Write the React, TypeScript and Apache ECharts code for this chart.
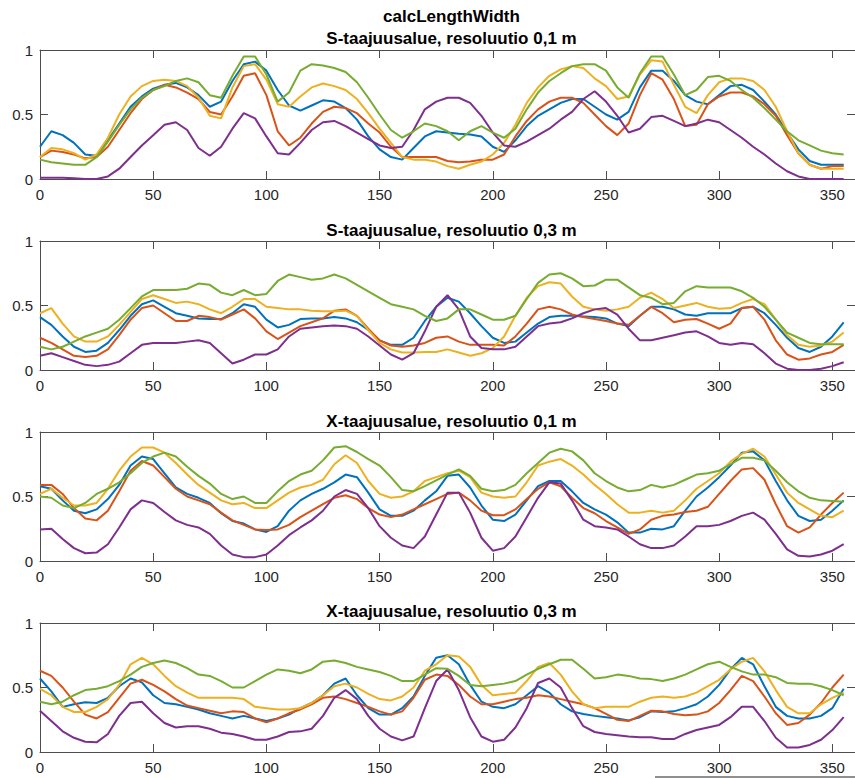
import React, { useEffect, useRef } from "react";
import * as echarts from "echarts";

const angles = [
  0, 5, 10, 15, 20, 25, 30, 35, 40, 45, 50, 55, 60, 65, 70, 75, 80, 85, 90, 95,
  100, 105, 110, 115, 120, 125, 130, 135, 140, 145, 150, 155, 160, 165, 170,
  175, 180, 185, 190, 195, 200, 205, 210, 215, 220, 225, 230, 235, 240, 245,
  250, 255, 260, 265, 270, 275, 280, 285, 290, 295, 300, 305, 310, 315, 320,
  325, 330, 335, 340, 345, 350, 355,
];

const mainTitle = "calcLengthWidth";
const panelTitles = [
  "S-taajuusalue, resoluutio 0,1 m",
  "S-taajuusalue, resoluutio 0,3 m",
  "X-taajuusalue, resoluutio 0,1 m",
  "X-taajuusalue, resoluutio 0,3 m",
];
const xTicks = [0, 50, 100, 150, 200, 250, 300, 350];
const yTicks = [0, 0.5, 1];
const seriesColors = ["#0072BD", "#D95319", "#EDB120", "#7E2F8E", "#77AC30"];

// S-taajuusalue, 0,1 m
const s01Blue = [
  0.25, 0.37, 0.34, 0.28, 0.19, 0.18, 0.30, 0.43, 0.56, 0.64,
  0.70, 0.73, 0.745, 0.71, 0.65, 0.56, 0.60, 0.76, 0.89, 0.91,
  0.84, 0.69, 0.57, 0.53, 0.57, 0.61, 0.60, 0.55, 0.46, 0.33,
  0.23, 0.17, 0.15, 0.24, 0.33,
  0.37, 0.36, 0.35, 0.345, 0.33, 0.25, 0.21, 0.30, 0.41, 0.49,
  0.54, 0.59, 0.62, 0.62, 0.56, 0.50, 0.46, 0.52, 0.71, 0.84,
  0.84, 0.76, 0.65, 0.60, 0.58, 0.65, 0.72, 0.73, 0.69, 0.60,
  0.50, 0.36, 0.23, 0.14, 0.11, 0.11, 0.11,
];
const s01Orange = [
  0.17, 0.22, 0.21, 0.19, 0.16, 0.17, 0.25, 0.38, 0.51, 0.62,
  0.69, 0.73, 0.71, 0.67, 0.62, 0.52, 0.50, 0.64, 0.80, 0.82,
  0.65, 0.37, 0.26, 0.32, 0.43, 0.52, 0.56, 0.55, 0.51, 0.43,
  0.36, 0.25, 0.17, 0.17, 0.17,
  0.17, 0.14, 0.13, 0.135, 0.15, 0.15, 0.19, 0.33, 0.45, 0.54,
  0.60, 0.63, 0.63, 0.59, 0.50, 0.41, 0.34, 0.43, 0.65, 0.82,
  0.77, 0.62, 0.41, 0.42, 0.58, 0.64, 0.67, 0.67, 0.64, 0.58,
  0.49, 0.34, 0.20, 0.11, 0.08, 0.10, 0.10,
];
const s01Yellow = [
  0.17, 0.24, 0.23, 0.20, 0.15, 0.19, 0.32, 0.50, 0.64, 0.72,
  0.76, 0.77, 0.76, 0.72, 0.63, 0.49, 0.47, 0.71, 0.875, 0.89,
  0.77, 0.58, 0.56, 0.64, 0.71, 0.74, 0.72, 0.69, 0.62, 0.51,
  0.39, 0.28, 0.17, 0.15, 0.15,
  0.135, 0.10, 0.08, 0.11, 0.135, 0.19, 0.28, 0.42, 0.59, 0.71,
  0.80, 0.85, 0.875, 0.86, 0.78, 0.72, 0.62, 0.64, 0.81, 0.92,
  0.91, 0.73, 0.56, 0.51, 0.65, 0.75, 0.78, 0.78, 0.76, 0.69,
  0.56, 0.37, 0.20, 0.11, 0.08, 0.08, 0.08,
];
const s01Purple = [
  0.01, 0.01, 0.01, 0.005, 0, 0, 0.02, 0.08, 0.17, 0.26,
  0.34, 0.42, 0.44, 0.38, 0.24, 0.18, 0.25, 0.39, 0.51, 0.47,
  0.33, 0.20, 0.19, 0.28, 0.38, 0.44, 0.45, 0.41, 0.36, 0.31,
  0.26, 0.24, 0.25, 0.38, 0.54,
  0.60, 0.63, 0.63, 0.59, 0.49, 0.36, 0.26, 0.25, 0.29, 0.34,
  0.39, 0.46, 0.52, 0.62, 0.68, 0.60, 0.49, 0.36, 0.39, 0.48,
  0.49, 0.45, 0.41, 0.43, 0.46, 0.44, 0.38, 0.32, 0.25, 0.19,
  0.12, 0.06, 0.02, 0, 0, 0, 0,
];
const s01Green = [
  0.15, 0.13, 0.12, 0.11, 0.11, 0.17, 0.29, 0.42, 0.54, 0.63,
  0.69, 0.72, 0.76, 0.78, 0.75, 0.65, 0.63, 0.80, 0.95, 0.95,
  0.81, 0.60, 0.67, 0.84, 0.89, 0.88, 0.86, 0.83, 0.75, 0.63,
  0.50, 0.38, 0.32, 0.37, 0.43,
  0.41, 0.37, 0.30, 0.37, 0.41, 0.36, 0.32, 0.39, 0.54, 0.67,
  0.76, 0.82, 0.875, 0.89, 0.89, 0.84, 0.71, 0.63, 0.82, 0.95,
  0.95, 0.81, 0.65, 0.69, 0.79, 0.80, 0.76, 0.69, 0.63, 0.55,
  0.46, 0.37, 0.30, 0.26, 0.22, 0.20, 0.19,
];

// S-taajuusalue, 0,3 m
const s03Blue = [
  0.41, 0.35, 0.26, 0.18, 0.14, 0.15, 0.21, 0.31, 0.42, 0.51,
  0.54, 0.49, 0.44, 0.42, 0.40, 0.395, 0.395, 0.44, 0.51, 0.49,
  0.39, 0.33, 0.35, 0.395, 0.40, 0.40, 0.41, 0.40, 0.37, 0.31,
  0.23, 0.195, 0.195, 0.25, 0.38,
  0.49, 0.56, 0.53, 0.44, 0.34, 0.25, 0.21, 0.22, 0.29, 0.36,
  0.41, 0.42, 0.42, 0.415, 0.41, 0.40, 0.36, 0.34, 0.42, 0.49,
  0.49, 0.47, 0.43, 0.42, 0.44, 0.44, 0.44, 0.48, 0.49, 0.44,
  0.35, 0.25, 0.17, 0.14, 0.18, 0.26, 0.37,
];
const s03Orange = [
  0.25, 0.21, 0.16, 0.11, 0.10, 0.11, 0.16, 0.27, 0.39, 0.48,
  0.50, 0.44, 0.38, 0.38, 0.42, 0.41, 0.39, 0.43, 0.47, 0.40,
  0.30, 0.24, 0.29, 0.34, 0.37, 0.40, 0.46, 0.47, 0.42, 0.32,
  0.23, 0.19, 0.18, 0.19, 0.21,
  0.25, 0.26, 0.22, 0.195, 0.195, 0.195, 0.19, 0.26, 0.36, 0.47,
  0.49, 0.47, 0.43, 0.41, 0.395, 0.38, 0.36, 0.35, 0.42, 0.49,
  0.44, 0.37, 0.39, 0.395, 0.36, 0.32, 0.36, 0.48, 0.49, 0.39,
  0.23, 0.12, 0.08, 0.09, 0.12, 0.14, 0.195,
];
const s03Yellow = [
  0.44, 0.48, 0.36, 0.26, 0.22, 0.22, 0.26, 0.35, 0.45, 0.55,
  0.58, 0.55, 0.52, 0.53, 0.51, 0.47, 0.44, 0.49, 0.55, 0.55,
  0.49, 0.48, 0.47, 0.47, 0.46, 0.455, 0.455, 0.46, 0.42, 0.31,
  0.21, 0.16, 0.135, 0.135, 0.14,
  0.14, 0.16, 0.135, 0.11, 0.13, 0.17, 0.26, 0.42, 0.56, 0.65,
  0.68, 0.67, 0.57, 0.49, 0.47, 0.46, 0.47, 0.49, 0.56, 0.60,
  0.55, 0.48, 0.50, 0.52, 0.49, 0.475, 0.48, 0.52, 0.55, 0.51,
  0.39, 0.27, 0.195, 0.18, 0.19, 0.22, 0.29,
];
const s03Purple = [
  0.11, 0.13, 0.10, 0.07, 0.04, 0.03, 0.04, 0.065, 0.13, 0.195,
  0.21, 0.21, 0.21, 0.22, 0.23, 0.21, 0.13, 0.05, 0.08, 0.12,
  0.12, 0.16, 0.26, 0.32, 0.33, 0.34, 0.345, 0.34, 0.32, 0.26,
  0.19, 0.12, 0.08, 0.13, 0.30,
  0.49, 0.58, 0.47, 0.26, 0.17, 0.16, 0.16, 0.18, 0.26, 0.34,
  0.36, 0.37, 0.40, 0.44, 0.47, 0.48, 0.43, 0.32, 0.23, 0.23,
  0.25, 0.27, 0.29, 0.30, 0.26, 0.21, 0.195, 0.21, 0.20, 0.13,
  0.05, 0.01, 0, 0, 0.01, 0.03, 0.06,
];
const s03Green = [
  0.18, 0.16, 0.18, 0.22, 0.26, 0.29, 0.32, 0.39, 0.48, 0.57,
  0.62, 0.62, 0.62, 0.63, 0.67, 0.66, 0.60, 0.58, 0.62, 0.58,
  0.59, 0.69, 0.74, 0.72, 0.70, 0.71, 0.74, 0.71, 0.66, 0.61,
  0.56, 0.51, 0.49, 0.47, 0.42,
  0.38, 0.40, 0.47, 0.47, 0.43, 0.39, 0.39, 0.42, 0.55, 0.675,
  0.74, 0.75, 0.71, 0.65, 0.655, 0.70, 0.70, 0.64, 0.58, 0.56,
  0.51, 0.52, 0.61, 0.65, 0.64, 0.64, 0.64, 0.61, 0.56, 0.49,
  0.39, 0.29, 0.25, 0.21, 0.20, 0.20, 0.20,
];

// X-taajuusalue, 0,1 m
const x01Blue = [
  0.58, 0.56, 0.47, 0.39, 0.37, 0.40, 0.48, 0.59, 0.74, 0.81,
  0.79, 0.68, 0.57, 0.52, 0.49, 0.45, 0.37, 0.31, 0.29, 0.245,
  0.225, 0.27, 0.39, 0.47, 0.52, 0.56, 0.61, 0.67, 0.65, 0.53,
  0.40, 0.35, 0.35, 0.39, 0.47,
  0.54, 0.66, 0.67, 0.57, 0.43, 0.32, 0.31, 0.36, 0.47, 0.58,
  0.62, 0.62, 0.54, 0.45, 0.40, 0.36, 0.30, 0.22, 0.22, 0.25,
  0.245, 0.27, 0.39, 0.50, 0.57, 0.65, 0.74, 0.84, 0.85, 0.78,
  0.62, 0.47, 0.35, 0.31, 0.32, 0.39, 0.47,
];
const x01Orange = [
  0.59, 0.59, 0.52, 0.41, 0.33, 0.315, 0.39, 0.54, 0.70, 0.775,
  0.74, 0.65, 0.56, 0.50, 0.47, 0.44, 0.375, 0.315, 0.28, 0.245,
  0.24, 0.245, 0.28, 0.34, 0.39, 0.44, 0.49, 0.51, 0.48, 0.41,
  0.36, 0.34, 0.36, 0.40, 0.44,
  0.48, 0.52, 0.53, 0.47, 0.39, 0.355, 0.355, 0.40, 0.48, 0.56,
  0.61, 0.58, 0.49, 0.41, 0.37, 0.31, 0.26, 0.21, 0.245, 0.32,
  0.35, 0.36, 0.38, 0.39, 0.42, 0.52, 0.62, 0.71, 0.72, 0.63,
  0.44, 0.27, 0.22, 0.26, 0.36, 0.45, 0.53,
];
const x01Yellow = [
  0.52, 0.56, 0.49, 0.43, 0.43, 0.45, 0.56, 0.70, 0.81, 0.88,
  0.88, 0.84, 0.76, 0.67, 0.59, 0.53, 0.47, 0.44, 0.45, 0.41,
  0.41, 0.47, 0.53, 0.57, 0.59, 0.63, 0.75, 0.82, 0.76, 0.62,
  0.52, 0.49, 0.50, 0.54, 0.62,
  0.65, 0.68, 0.70, 0.65, 0.53, 0.50, 0.49, 0.50, 0.61, 0.74,
  0.77, 0.79, 0.74, 0.67, 0.59, 0.52, 0.44, 0.375, 0.375, 0.39,
  0.375, 0.39, 0.47, 0.56, 0.62, 0.68, 0.77, 0.83, 0.87, 0.81,
  0.67, 0.53, 0.45, 0.40, 0.35, 0.34, 0.39,
];
const x01Purple = [
  0.245, 0.25, 0.17, 0.10, 0.06, 0.065, 0.13, 0.26, 0.40, 0.47,
  0.45, 0.38, 0.315, 0.28, 0.26, 0.21, 0.12, 0.05, 0.03, 0.03,
  0.05, 0.12, 0.20, 0.26, 0.315, 0.39, 0.50, 0.55, 0.52, 0.41,
  0.27, 0.18, 0.12, 0.10, 0.19,
  0.36, 0.53, 0.53, 0.375, 0.18, 0.08, 0.10, 0.19, 0.34, 0.49,
  0.61, 0.60, 0.47, 0.32, 0.27, 0.26, 0.245, 0.19, 0.13, 0.10,
  0.10, 0.12, 0.19, 0.27, 0.27, 0.28, 0.31, 0.35, 0.375, 0.32,
  0.21, 0.09, 0.04, 0.035, 0.05, 0.08, 0.13,
];
const x01Green = [
  0.50, 0.49, 0.43, 0.41, 0.45, 0.52, 0.56, 0.61, 0.68, 0.76,
  0.81, 0.84, 0.81, 0.73, 0.66, 0.60, 0.52, 0.48, 0.50, 0.45,
  0.45, 0.54, 0.62, 0.67, 0.70, 0.78, 0.88, 0.89, 0.845, 0.79,
  0.74, 0.65, 0.55, 0.54, 0.58,
  0.625, 0.67, 0.71, 0.66, 0.56, 0.54, 0.55, 0.59, 0.68, 0.76,
  0.84, 0.87, 0.85, 0.78, 0.68, 0.62, 0.57, 0.54, 0.55, 0.59,
  0.57, 0.59, 0.63, 0.67, 0.68, 0.70, 0.75, 0.80, 0.80, 0.78,
  0.70, 0.61, 0.54, 0.49, 0.47, 0.465, 0.46,
];

// X-taajuusalue, 0,3 m
const x03Blue = [
  0.57, 0.47, 0.35, 0.37, 0.385, 0.38, 0.42, 0.51, 0.57, 0.54,
  0.44, 0.38, 0.37, 0.35, 0.33, 0.30, 0.28, 0.26, 0.28, 0.26,
  0.24, 0.26, 0.29, 0.34, 0.38, 0.44, 0.53, 0.57, 0.44, 0.34,
  0.29, 0.29, 0.34, 0.43, 0.59,
  0.73, 0.75, 0.68, 0.52, 0.39, 0.35, 0.34, 0.37, 0.44, 0.51,
  0.46, 0.37, 0.315, 0.295, 0.28, 0.27, 0.26, 0.245, 0.27, 0.315,
  0.31, 0.315, 0.34, 0.37, 0.43, 0.52, 0.64, 0.73, 0.68, 0.51,
  0.35, 0.28, 0.26, 0.26, 0.28, 0.34, 0.49,
];
const x03Orange = [
  0.63, 0.59, 0.50, 0.39, 0.29, 0.26, 0.31, 0.42, 0.53, 0.56,
  0.52, 0.47, 0.41, 0.36, 0.34, 0.32, 0.30, 0.315, 0.31, 0.26,
  0.23, 0.26, 0.30, 0.33, 0.37, 0.42, 0.43, 0.41, 0.38, 0.35,
  0.315, 0.29, 0.315, 0.42, 0.56,
  0.60, 0.59, 0.52, 0.43, 0.37, 0.37, 0.39, 0.41, 0.42, 0.44,
  0.43, 0.41, 0.39, 0.37, 0.34, 0.295, 0.25, 0.24, 0.28, 0.32,
  0.315, 0.295, 0.285, 0.29, 0.315, 0.38, 0.48, 0.59, 0.55, 0.43,
  0.30, 0.21, 0.225, 0.29, 0.38, 0.50, 0.60,
];
const x03Yellow = [
  0.49, 0.44, 0.35, 0.31, 0.31, 0.35, 0.41, 0.52, 0.68, 0.73,
  0.68, 0.59, 0.51, 0.46, 0.42, 0.42, 0.42, 0.42, 0.41, 0.35,
  0.34, 0.33, 0.33, 0.34, 0.38, 0.44, 0.51, 0.53, 0.50, 0.45,
  0.41, 0.40, 0.43, 0.50, 0.63,
  0.68, 0.75, 0.74, 0.66, 0.52, 0.44, 0.45, 0.46, 0.55, 0.66,
  0.69, 0.60, 0.47, 0.37, 0.34, 0.35, 0.35, 0.35, 0.39, 0.42,
  0.43, 0.42, 0.43, 0.46, 0.51, 0.56, 0.64, 0.70, 0.73, 0.625,
  0.48, 0.35, 0.30, 0.30, 0.37, 0.42, 0.46,
];
const x03Purple = [
  0.32, 0.24, 0.16, 0.11, 0.08, 0.075, 0.14, 0.28, 0.38, 0.39,
  0.30, 0.225, 0.19, 0.20, 0.20, 0.18, 0.15, 0.14, 0.12, 0.095,
  0.095, 0.12, 0.155, 0.16, 0.18, 0.28, 0.42, 0.48, 0.41, 0.28,
  0.18, 0.12, 0.09, 0.12, 0.34,
  0.55, 0.64, 0.48, 0.27, 0.12, 0.08, 0.095, 0.19, 0.34, 0.535,
  0.57, 0.50, 0.34, 0.20, 0.155, 0.14, 0.13, 0.12, 0.115, 0.115,
  0.10, 0.10, 0.14, 0.17, 0.19, 0.21, 0.27, 0.35, 0.35, 0.24,
  0.11, 0.035, 0.035, 0.055, 0.095, 0.17, 0.27,
];
const x03Green = [
  0.39, 0.37, 0.39, 0.44, 0.48, 0.49, 0.51, 0.55, 0.60, 0.66,
  0.69, 0.71, 0.69, 0.65, 0.60, 0.59, 0.55, 0.50, 0.50, 0.55,
  0.60, 0.64, 0.63, 0.61, 0.64, 0.70, 0.71, 0.69, 0.66, 0.64,
  0.62, 0.59, 0.55, 0.55, 0.60,
  0.65, 0.645, 0.59, 0.52, 0.51, 0.52, 0.53, 0.55, 0.60, 0.645,
  0.68, 0.715, 0.715, 0.645, 0.57, 0.58, 0.60, 0.59, 0.57, 0.565,
  0.55, 0.57, 0.60, 0.64, 0.68, 0.70, 0.66, 0.625, 0.60, 0.60,
  0.58, 0.535, 0.53, 0.53, 0.51, 0.48, 0.44,
];

const panelSeries = [
  [s01Blue, s01Orange, s01Yellow, s01Purple, s01Green],
  [s03Blue, s03Orange, s03Yellow, s03Purple, s03Green],
  [x01Blue, x01Orange, x01Yellow, x01Purple, x01Green],
  [x03Blue, x03Orange, x03Yellow, x03Purple, x03Green],
];

const FONT = '"Liberation Sans", Arial, Helvetica, sans-serif';
const AXIS_COLOR = "#262626";
const LINE_COLOR = "#4d4d4d";

export default function App() {
  const ref = useRef<HTMLDivElement>(null);

  useEffect(() => {
    if (!ref.current) return;
    const chart = echarts.init(ref.current, undefined, { renderer: "svg" });

    const gridLeft = 40;
    const gridWidth = 823;
    const gridHeight = 129;
    const gridTops = [50, 241, 432, 623];
    const titleYs = [38.5, 230, 421, 611.5];
    const centerX = gridLeft + gridWidth / 2;

    const grids: any[] = [];
    const xAxes: any[] = [];
    const yAxes: any[] = [];
    const series: any[] = [];
    const graphics: any[] = [];

    const tickStyle = {
      show: true,
      inside: true,
      length: 8,
      lineStyle: { color: LINE_COLOR, width: 1 },
    };

    graphics.push({
      type: "text",
      x: centerX,
      y: 16,
      silent: true,
      style: {
        text: mainTitle,
        fill: "#000",
        fontSize: 17,
        fontWeight: "bold",
        fontFamily: FONT,
        align: "center",
        verticalAlign: "middle",
      },
    });

    panelSeries.forEach((group, p) => {
      grids.push({
        left: gridLeft,
        top: gridTops[p],
        width: gridWidth,
        height: gridHeight,
        containLabel: false,
      });
      graphics.push({
        type: "text",
        x: centerX,
        y: titleYs[p],
        silent: true,
        style: {
          text: panelTitles[p],
          fill: "#000",
          fontSize: 17,
          fontWeight: "bold",
          fontFamily: FONT,
          align: "center",
          verticalAlign: "middle",
        },
      });
      // bottom x axis
      xAxes.push({
        gridIndex: p,
        type: "value",
        position: "bottom",
        min: xTicks[0],
        max: 360,
        interval: xTicks[1] - xTicks[0],
        axisLine: { show: true, onZero: false, lineStyle: { color: LINE_COLOR, width: 1 } },
        axisTick: tickStyle,
        axisLabel: {
          show: true,
          color: AXIS_COLOR,
          fontSize: 15,
          fontFamily: FONT,
          margin: 8,
          showMaxLabel: false,
        },
        splitLine: { show: false },
      });
      // top x axis
      xAxes.push({
        gridIndex: p,
        type: "value",
        position: "top",
        min: xTicks[0],
        max: 360,
        interval: xTicks[1] - xTicks[0],
        axisLine: { show: true, onZero: false, lineStyle: { color: LINE_COLOR, width: 1 } },
        axisTick: tickStyle,
        axisLabel: { show: false },
        splitLine: { show: false },
      });
      // left y axis
      yAxes.push({
        gridIndex: p,
        type: "value",
        position: "left",
        min: yTicks[0],
        max: yTicks[yTicks.length - 1],
        interval: yTicks[1] - yTicks[0],
        axisLine: { show: true, onZero: false, lineStyle: { color: LINE_COLOR, width: 1 } },
        axisTick: tickStyle,
        axisLabel: {
          show: true,
          color: AXIS_COLOR,
          fontSize: 15,
          fontFamily: FONT,
          margin: 7,
        },
        splitLine: { show: false },
      });
      // right y axis
      yAxes.push({
        gridIndex: p,
        type: "value",
        position: "right",
        min: yTicks[0],
        max: yTicks[yTicks.length - 1],
        interval: yTicks[1] - yTicks[0],
        axisLine: { show: true, onZero: false, lineStyle: { color: LINE_COLOR, width: 1 } },
        axisTick: tickStyle,
        axisLabel: { show: false },
        splitLine: { show: false },
      });

      group.forEach((values, k) => {
        series.push({
          type: "line",
          xAxisIndex: p * 2,
          yAxisIndex: p * 2,
          data: angles.map((a, i) => [a, values[i]]),
          showSymbol: false,
          symbol: "none",
          silent: true,
          lineStyle: { color: seriesColors[k], width: 2 },
          itemStyle: { color: seriesColors[k] },
          z: 2 + k,
        });
      });
    });

    // thin grey strip at the bottom edge of the screenshot
    graphics.push({
      type: "rect",
      silent: true,
      shape: { x: 655, y: 776, width: 200, height: 2 },
      style: { fill: "#8f8f8f" },
    });

    chart.setOption({
      animation: false,
      backgroundColor: "#ffffff",
      grid: grids,
      xAxis: xAxes,
      yAxis: yAxes,
      series,
      graphic: graphics,
    });

    return () => {
      chart.dispose();
    };
  }, []);

  return (
    <div
      ref={ref}
      style={{ position: "absolute", left: 0, top: 0, width: 855, height: 778 }}
    />
  );
}
